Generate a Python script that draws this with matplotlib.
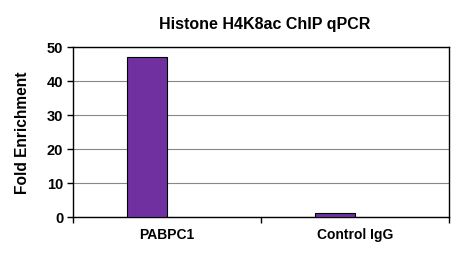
import matplotlib
matplotlib.use('Agg')

import matplotlib.pyplot as plt
import numpy as np

# -------------------
# Data
# -------------------
categories = ["PABPC1", "Control IgG"]
fold_enrichment = [47.1, 1.2]
y_ticks = [0, 10, 20, 30, 40, 50]

plt.rcParams['font.family'] = ['Liberation Sans', 'DejaVu Sans']

fig = plt.figure(figsize=(4.72, 2.63), dpi=100)
ax = fig.add_axes([73 / 472, 1 - 217.3 / 263, 376 / 472, 170 / 263])

x = np.arange(len(categories))
bar_w = 0.213
ax.bar(x - bar_w / 2, fold_enrichment, width=bar_w, color='#7030a0',
       edgecolor='black', linewidth=0.8, zorder=3)

ax.set_xlim(-0.5, len(categories) - 0.5)
ax.set_ylim(0, 50)
ax.set_yticks(y_ticks)
ax.set_yticklabels([str(t) for t in y_ticks], fontsize=10.5, fontweight='bold')
ax.set_xticks(np.arange(len(categories) + 1) - 0.5)
ax.set_xticklabels([])
ax.set_xticks(x, minor=True)
ax.set_xticklabels(categories, minor=True, fontsize=10, fontweight='bold')
ax.tick_params(axis='x', which='minor', length=0, pad=8)
ax.tick_params(axis='x', which='major', length=4, width=1, direction='out')
ax.tick_params(axis='y', length=4, width=1, direction='out', pad=3)

ax.yaxis.grid(True, color='#888888', linewidth=0.8, zorder=0)
for s in ax.spines.values():
    s.set_linewidth(1)
    s.set_color('black')

ax.set_ylabel("Fold Enrichment", fontsize=11.2, fontweight='bold', labelpad=12)
fig.text(265 / 472, 1 - 24 / 263, "Histone H4K8ac ChIP qPCR", fontsize=11.5,
         fontweight='bold', ha='center', va='center')

fig.savefig("out.png", dpi=100)
